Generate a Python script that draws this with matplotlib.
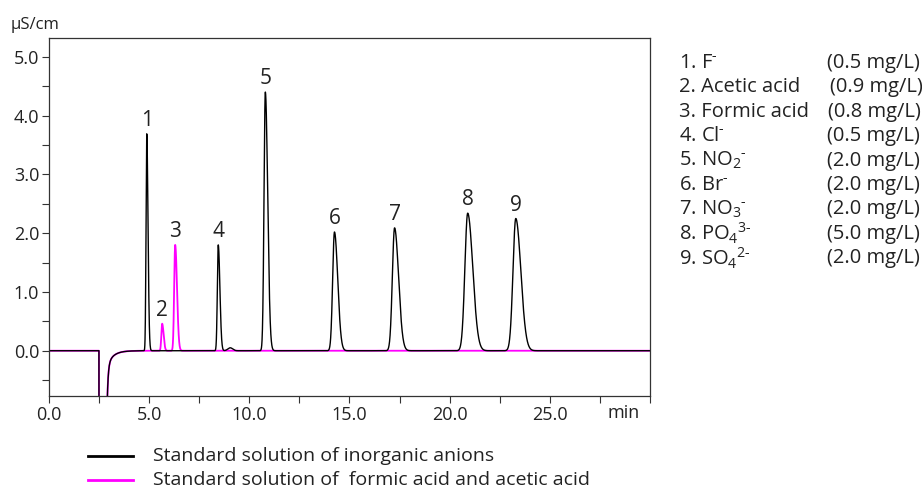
import numpy as np
import matplotlib.pyplot as plt

plt.rcParams["font.family"] = ["Open Sans", "DejaVu Sans"]
plt.rcParams["mathtext.default"] = "regular"

# peaks: retention time (min), height (uS/cm), width (sigma, min)
anion_rt = [4.88, 8.45, 10.8, 14.25, 17.25, 20.9, 23.3]
anion_height = [3.69, 1.80, 4.40, 2.02, 2.09, 2.34, 2.25]
anion_sigma = [0.035, 0.045, 0.065, 0.09, 0.11, 0.14, 0.14]
anion_label = ["1", "4", "5", "6", "7", "8", "9"]

acid_rt = [5.65, 6.3]
acid_height = [0.46, 1.80]
acid_sigma = [0.04, 0.05]
acid_label = ["2", "3"]

# small system bump after chloride
bump_rt, bump_height, bump_sigma = 9.05, 0.05, 0.12

# water dip near the void volume
dip_start, dip_end = 2.5, 2.85
dip_fast, dip_slow = 2.0, 0.3

legend_names = ["1. F$^{\u2010}$", "2. Acetic acid", "3. Formic acid", "4. Cl$^{\u2010}$",
                "5. NO$_2$$^{\u2010}$", "6. Br$^{\u2010}$", "7. NO$_3$$^{\u2010}$",
                "8. PO$_4$$^{3\u2010}$", "9. SO$_4$$^{2\u2010}$"]
legend_conc = ["(0.5 mg/L)", "(0.9 mg/L)", "(0.8 mg/L)", "(0.5 mg/L)", "(2.0 mg/L)",
               "(2.0 mg/L)", "(2.0 mg/L)", "(5.0 mg/L)", "(2.0 mg/L)"]
legend_x = [827, 830, 828, 827, 827, 827, 827, 827, 827]

TXT = "#222222"


def peak(t, rt, h, s, tail=1.8):
    sig = np.where(t < rt, s, s * tail)
    return h * np.exp(-0.5 * ((t - rt) / sig) ** 2)


def dip(t):
    y = np.zeros_like(t)
    inside = (t >= dip_start) & (t < dip_end)
    y[inside] = -3.0
    after = t >= dip_end
    dt = t[after] - dip_end
    y[after] = -dip_fast * np.exp(-dt / 0.05) - dip_slow * np.exp(-dt / 0.3)
    return y


t = np.linspace(0, 30, 6001)
base = dip(t)
black = base.copy()
for rt, h, s in zip(anion_rt, anion_height, anion_sigma):
    black += peak(t, rt, h, s)
black += peak(t, bump_rt, bump_height, bump_sigma, tail=1.0)
magenta = base.copy()
for rt, h, s in zip(acid_rt, acid_height, acid_sigma):
    magenta += peak(t, rt, h, s)

fig = plt.figure(figsize=(9.22, 4.91), dpi=100)
ax = fig.add_axes([0.0531, 0.1935, 0.6519, 0.7291])

ax.plot(t, magenta, color="#ff00ff", lw=1.3)
ax.plot(t, black, color="black", lw=1.0)

for rt, h, lab in list(zip(anion_rt, anion_height, anion_label)) + \
        list(zip(acid_rt, acid_height, acid_label)):
    ax.annotate(lab, (rt, h), xytext=(0, 2), textcoords="offset points",
                ha="center", va="bottom", fontsize=15, color=TXT)

ax.set_xlim(0, 30)
ax.set_ylim(-0.77, 5.32)
ax.set_xticks(np.arange(0, 30.1, 2.5))
ax.set_xticklabels(["0.0", "", "5.0", "", "10.0", "", "15.0", "", "20.0", "", "25.0", "", ""])
yt = np.arange(-0.5, 5.1, 0.5)
ax.set_yticks(yt)
ax.set_yticklabels(["" if v < 0 or abs(v * 2 % 2 - 1) < 1e-9 else f"{v:.1f}" for v in yt])
ax.tick_params(direction="out", length=5, width=0.8, labelsize=13,
               colors="#333333", labelcolor=TXT, pad=2)
for sp in ax.spines.values():
    sp.set_color("#333333")
    sp.set_linewidth(0.9)
ax.text(28.7, -0.77 - 0.13, "min", ha="center", va="top", fontsize=13, color=TXT)
fig.text(11 / 922, 1 - 25 / 491, "μS/cm", fontsize=12, color=TXT, va="center")

for i, (name, conc, cx) in enumerate(zip(legend_names, legend_conc, legend_x)):
    y = 1 - (63 + 24.4 * i) / 491
    fig.text(679 / 922, y, name, fontsize=14.5, color=TXT, va="center")
    fig.text(cx / 922, y, conc, fontsize=14.5, color=TXT, va="center")

for y, col, lab in [(456, "black", "Standard solution of inorganic anions"),
                    (480, "#ff00ff", "Standard solution of  formic acid and acetic acid")]:
    fy = 1 - y / 491
    fig.add_artist(plt.Line2D([88 / 922, 133 / 922], [fy, fy], color=col, lw=2))
    fig.text(153 / 922, fy, lab, fontsize=14, color=TXT, va="center")

fig.savefig("out.png", dpi=100)
